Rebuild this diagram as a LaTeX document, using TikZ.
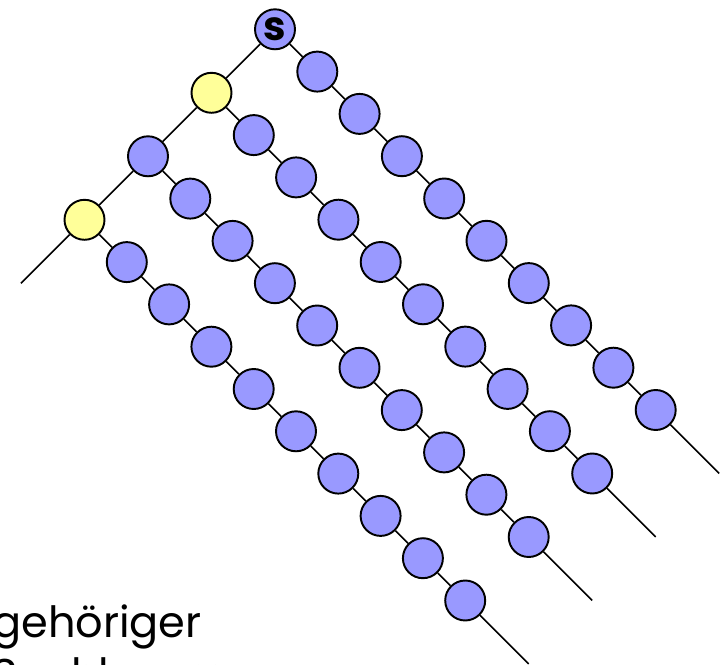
\documentclass[tikz,border=0pt]{standalone}
\usepackage{fontspec}
\setmainfont{Poppins}
\definecolor{knotblau}{RGB}{153,153,255}
\definecolor{knotgelb}{RGB}{255,255,153}

\begin{document}
\begin{tikzpicture}[x=0.02cm,y=-0.02cm,
  knoten/.style={circle,draw=black,line width=1.1pt,fill=knotblau,minimum size=0.8cm,inner sep=0pt},
  gelb/.style={knoten,fill=knotgelb},
  kante/.style={line width=0.85pt}]
\path[use as bounding box] (0,0) rectangle (720,665);
\clip (0,0) rectangle (720,665);
% Startknoten und linker Ast
\node[knoten,font=\bfseries\fontsize{23}{24}\selectfont] (s) at (275,29.3) {s};
\node[gelb] (w1) at (211.5,92.8) {};
\node[knoten] (w2) at (148,156.3) {};
\node[gelb] (w3) at (84.5,219.8) {};
\coordinate (w4) at (21,283.3);
\draw[kante] (s) -- (w1) -- (w2) -- (w3) -- (w4);
% Ketten nach rechts unten
\foreach \w/\px/\py in {s/275/29.3,w1/211.5/92.8,w2/148/156.3,w3/84.5/219.8} {
  \foreach \k in {1,...,9}
    \node[knoten] (\w-\k) at (\px+42.3*\k,\py+42.3*\k) {};
  \coordinate (\w-end) at (\px+444.2,\py+444.2);
  \draw[kante] (\w) -- (\w-1);
  \foreach \k [count=\j from 2] in {1,...,8}
    \draw[kante] (\w-\k) -- (\w-\j);
  \draw[kante] (\w-9) -- (\w-end);
}
% Text unten links (zweite Zeile nur angeschnitten)
\node[anchor=base west,align=left,inner sep=0pt,font=\fontsize{24.5}{29.8}\selectfont] (txt) at (-8,689.5) {gehöriger\\Suchbaum};
\end{tikzpicture}
\end{document}
